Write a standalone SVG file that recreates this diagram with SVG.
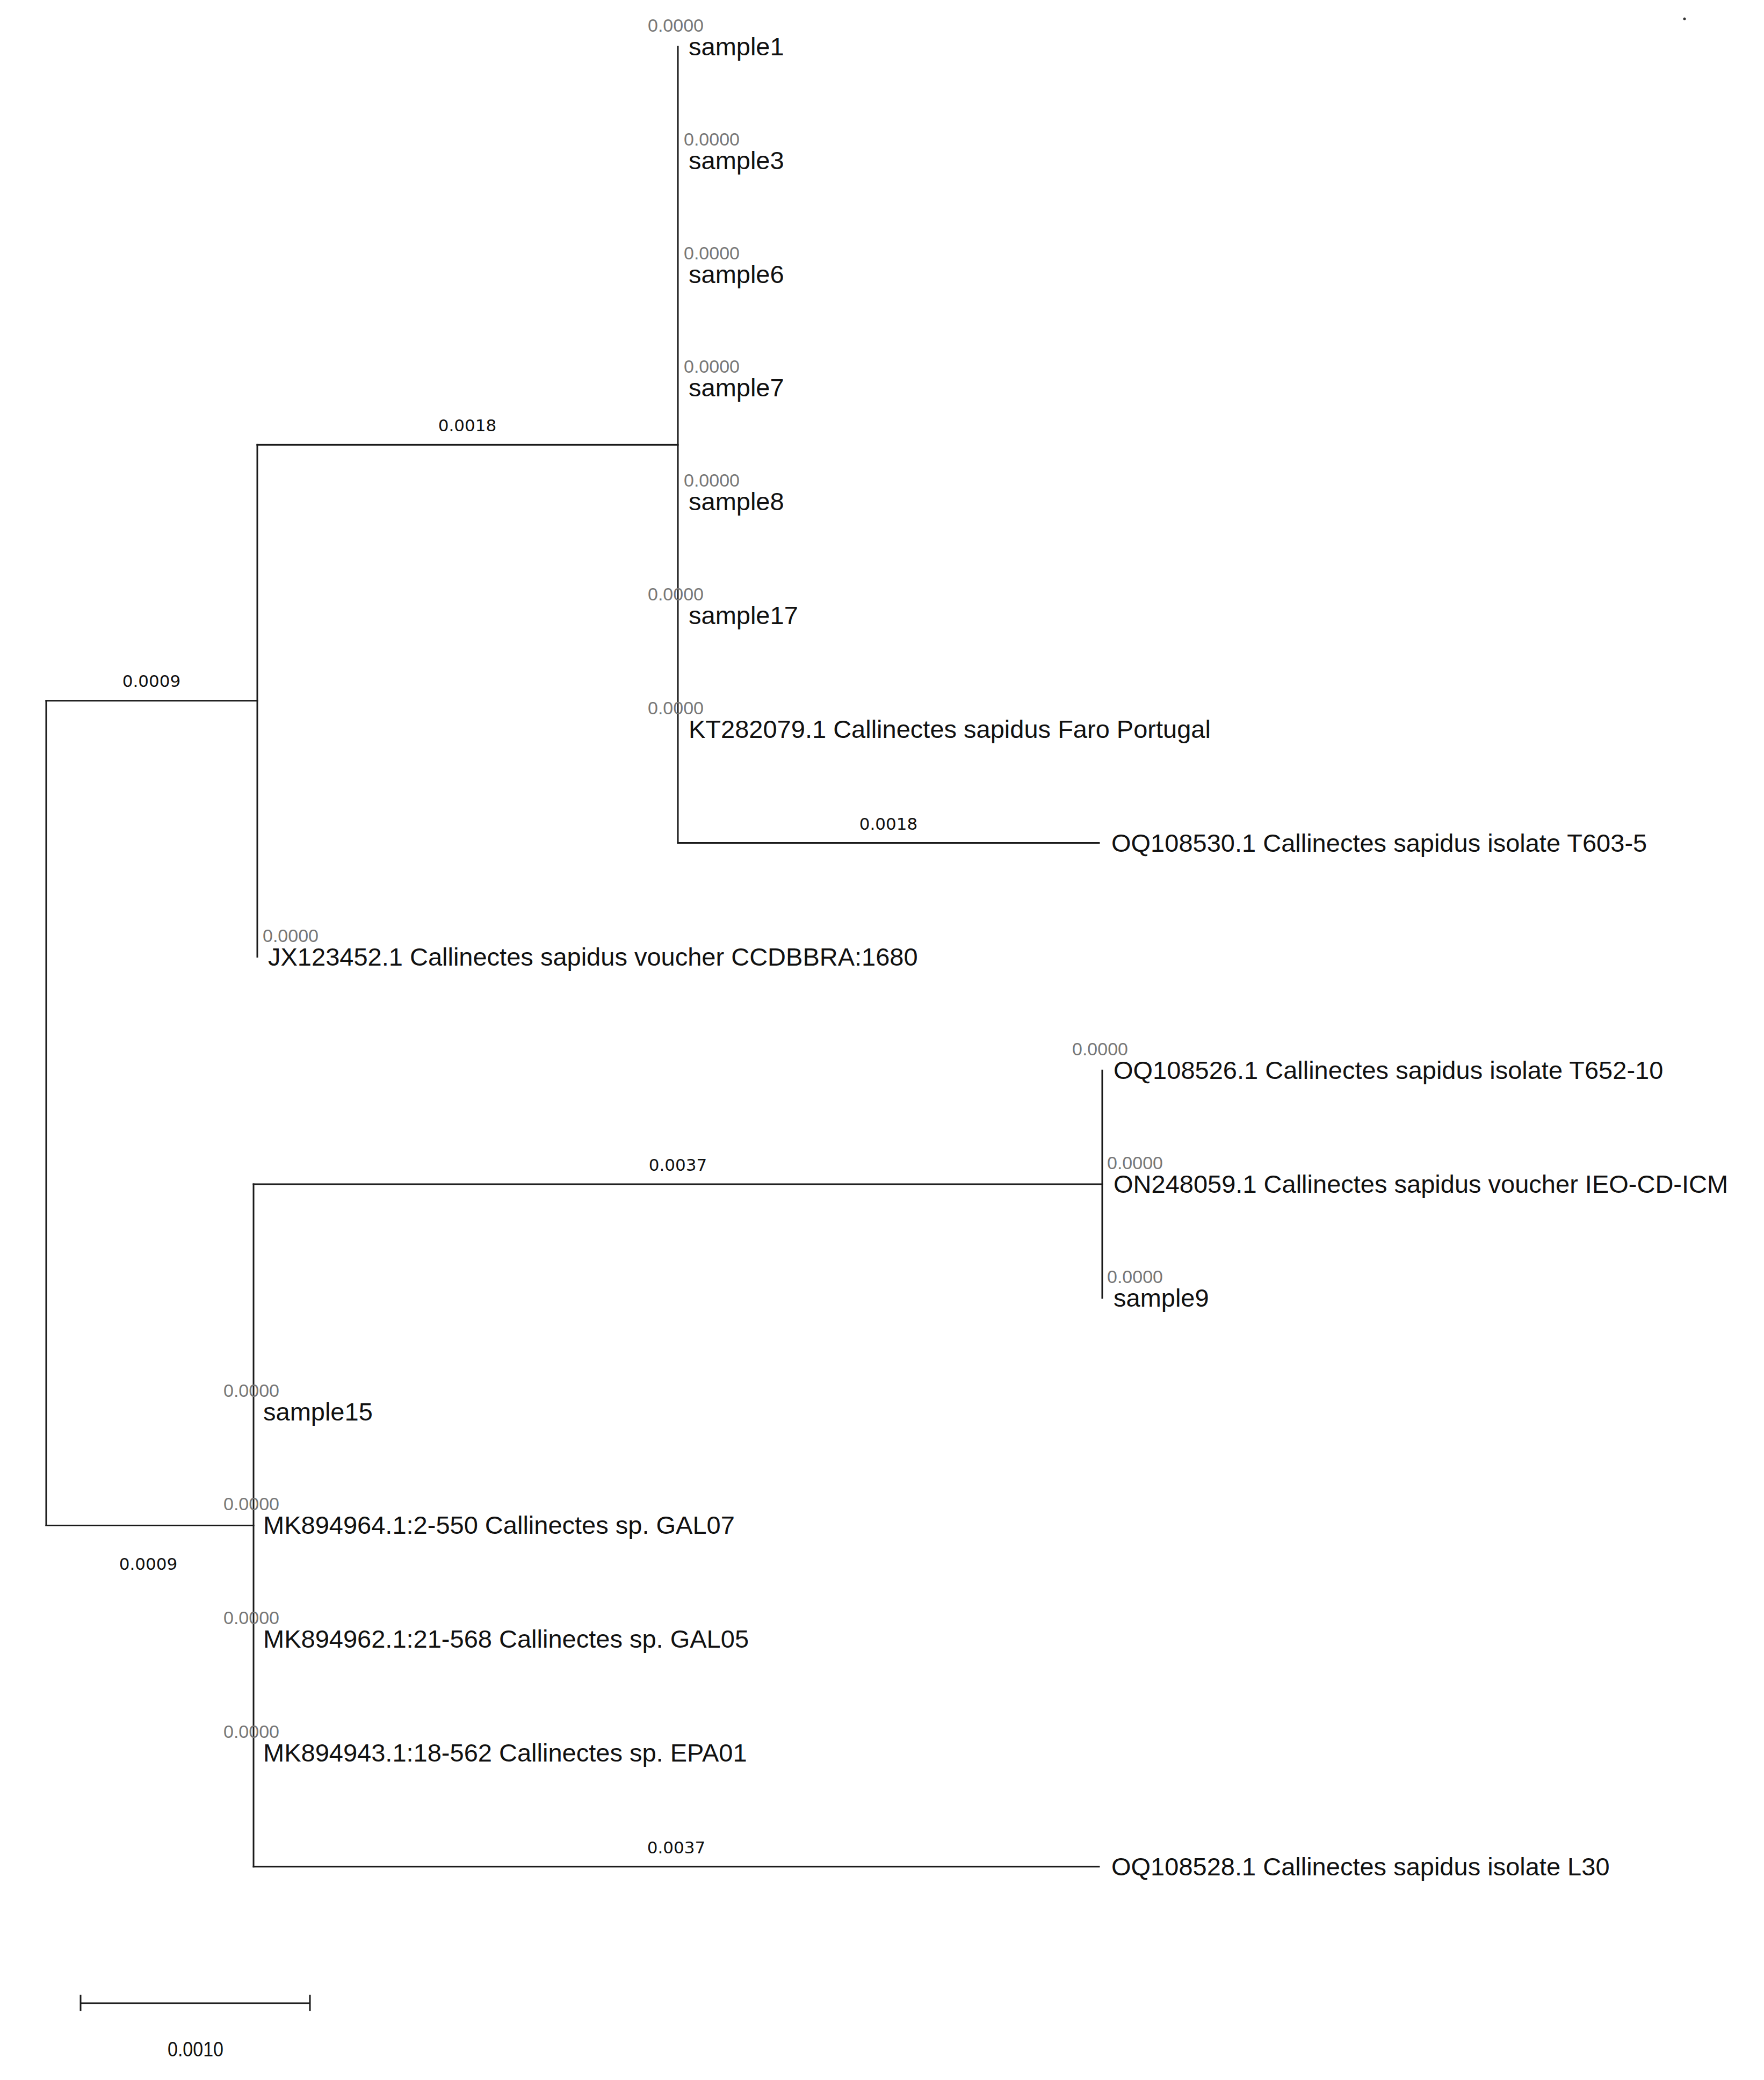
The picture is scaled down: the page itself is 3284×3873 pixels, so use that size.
<svg xmlns="http://www.w3.org/2000/svg" width="3284" height="3873" viewBox="0 0 3284 3873">
<style>
.br{stroke:#1a1a1a;stroke-width:3;fill:none;stroke-linecap:square}
.leaf{font-family:"Liberation Sans",Arial,sans-serif;font-size:47px;fill:#111}
.zero{font-family:"Liberation Sans",Arial,sans-serif;font-size:34px;fill:#777}
.bl{font-family:"DejaVu Sans",Verdana,sans-serif;font-size:31px;fill:#111;text-anchor:middle}
.mid{text-anchor:middle}
</style>
<rect width="3284" height="3873" fill="#ffffff"/>
<g id="connectors">
  <path class="br" d="M86,1304.7 V2840.4"/>
  <path class="br" d="M86,1304.7 H479"/>
  <path class="br" d="M86,2840.4 H472"/>
  <path class="br" d="M479,828.3 V1781.4"/>
  <path class="br" d="M479,828.3 H1262"/>
  <path class="br" d="M1262,87 V1569.6"/>
  <path class="br" d="M1262,1569.6 H2046"/>
  <path class="br" d="M472,2205 V3475.8"/>
  <path class="br" d="M472,2205 H2052"/>
  <path class="br" d="M2052,1993.2 V2416.8"/>
  <path class="br" d="M472,3475.8 H2046"/>
</g>
<g id="branch-labels">
  <text class="bl" x="282" y="1279">0.0009</text>
  <text class="bl" x="276" y="2923">0.0009</text>
  <text class="bl" x="870" y="803">0.0018</text>
  <text class="bl" x="1654" y="1545">0.0018</text>
  <text class="bl" x="1262" y="2180">0.0037</text>
  <text class="bl" x="1259" y="3451">0.0037</text>
</g>
<g id="leaf-sample1"><text class="zero mid" x="1258" y="59">0.0000</text><text class="leaf" x="1282" y="103">sample1</text></g>
<g id="leaf-sample3"><text class="zero" x="1273" y="271">0.0000</text><text class="leaf" x="1282" y="315">sample3</text></g>
<g id="leaf-sample6"><text class="zero" x="1273" y="483">0.0000</text><text class="leaf" x="1282" y="527">sample6</text></g>
<g id="leaf-sample7"><text class="zero" x="1273" y="694">0.0000</text><text class="leaf" x="1282" y="738">sample7</text></g>
<g id="leaf-sample8"><text class="zero" x="1273" y="906">0.0000</text><text class="leaf" x="1282" y="950">sample8</text></g>
<g id="leaf-sample17"><text class="zero mid" x="1258" y="1118">0.0000</text><text class="leaf" x="1282" y="1162">sample17</text></g>
<g id="leaf-KT282079"><text class="zero mid" x="1258" y="1330">0.0000</text><text class="leaf" x="1282" y="1374">KT282079.1 Callinectes sapidus Faro Portugal</text></g>
<g id="leaf-OQ108530"><text class="leaf" x="2069" y="1586">OQ108530.1 Callinectes sapidus isolate T603-5</text></g>
<g id="leaf-JX123452"><text class="zero" x="489" y="1754">0.0000</text><text class="leaf" x="499" y="1798">JX123452.1 Callinectes sapidus voucher CCDBBRA:1680</text></g>
<g id="leaf-OQ108526"><text class="zero mid" x="2048" y="1965">0.0000</text><text class="leaf" x="2073" y="2009">OQ108526.1 Callinectes sapidus isolate T652-10</text></g>
<g id="leaf-ON248059"><text class="zero" x="2061" y="2177">0.0000</text><text class="leaf" x="2073" y="2221">ON248059.1 Callinectes sapidus voucher IEO-CD-ICM</text></g>
<g id="leaf-sample9"><text class="zero" x="2061" y="2389">0.0000</text><text class="leaf" x="2073" y="2433">sample9</text></g>
<g id="leaf-sample15"><text class="zero mid" x="468" y="2601">0.0000</text><text class="leaf" x="490" y="2645">sample15</text></g>
<g id="leaf-MK894964"><text class="zero mid" x="468" y="2812">0.0000</text><text class="leaf" x="490" y="2856">MK894964.1:2-550 Callinectes sp. GAL07</text></g>
<g id="leaf-MK894962"><text class="zero mid" x="468" y="3024">0.0000</text><text class="leaf" x="490" y="3068">MK894962.1:21-568 Callinectes sp. GAL05</text></g>
<g id="leaf-MK894943"><text class="zero mid" x="468" y="3236">0.0000</text><text class="leaf" x="490" y="3280">MK894943.1:18-562 Callinectes sp. EPA01</text></g>
<g id="leaf-OQ108528"><text class="leaf" x="2069" y="3492">OQ108528.1 Callinectes sapidus isolate L30</text></g>
<g id="scale-bar">
  <path class="br" d="M150,3730 H577 M150,3716 V3743 M577,3716 V3743"/>
  <text x="364" y="3829" font-family="Liberation Sans, Arial, sans-serif" font-size="38" fill="#111" text-anchor="middle" textLength="104" lengthAdjust="spacingAndGlyphs">0.0010</text>
</g>
<circle cx="3136" cy="35" r="2.5" fill="#333"/>
</svg>
